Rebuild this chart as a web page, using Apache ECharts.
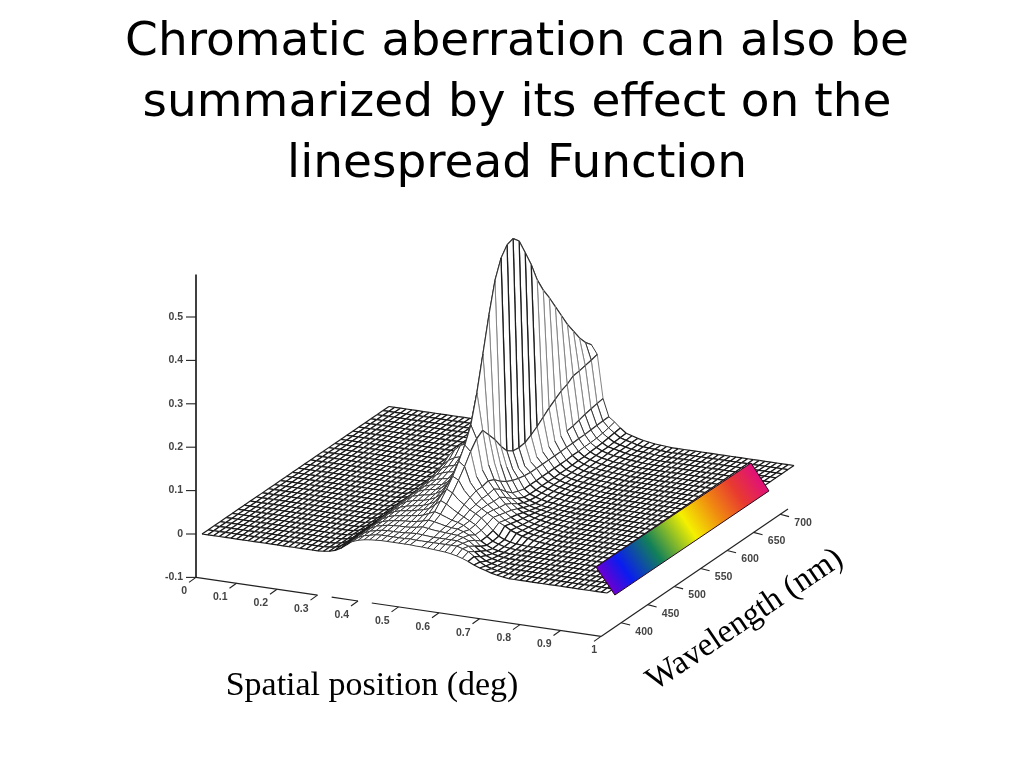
<!DOCTYPE html>
<html><head><meta charset="utf-8">
<style>html,body{margin:0;padding:0;background:#fff}#c{width:1024px;height:768px}</style>
<script src="https://cdn.jsdelivr.net/npm/echarts@6/dist/echarts.min.js"></script>
</head><body><div id="c"></div>
<script>
const titleLines = ['Chromatic aberration can also be','summarized by its effect on the','linespread Function'];
const xAxisName = 'Spatial position (deg)';
const wlAxisName = 'Wavelength (nm)';
const positionTicks = [0,0.1,0.2,0.3,0.4,0.5,0.6,0.7,0.8,0.9,1];
const positionLabels = ['0','0.1','0.2','0.3','0.4','0.5','0.6','0.7','0.8','0.9','1'];
const wavelengthTicks = [400,450,500,550,600,650,700];
const heightTicks = [-0.1,0,0.1,0.2,0.3,0.4,0.5];
const heightLabels = ['-0.1','0','0.1','0.2','0.3','0.4','0.5'];
const xAxisSegments = [[0,0.30],[0.335,0.40],[0.434,1]];
const positionCells = 70, wavelengthCells = 31, firstColumn = 20, crestColumn = 35;
const wavelengthRange = [362,715];
// Height (thousandths) per wavelength row, front to back, from mesh column 20 on; zero elsewhere.
const heightRows = [
[0,1,3,7,14,24,33,38,41,43,44,45,45,45,45,45,45,44,44,43,42,41,40,38,35,31,26,20,15,11,7,4,2],
[0,1,3,8,16,25,33,39,42,45,46,46,46,46,46,47,46,46,46,46,46,46,46,46,42,37,28,17,10,6,3,1],
[0,1,3,8,16,26,34,40,43,46,47,47,47,48,49,50,49,48,47,47,47,47,47,43,38,28,18,10,6,3,1],
[0,1,3,8,17,27,35,42,45,48,49,50,50,51,53,56,54,52,51,50,49,48,45,39,29,19,11,6,3,1],
[0,1,4,9,18,28,37,43,47,49,51,52,53,55,58,62,60,57,54,52,51,47,41,31,19,11,6,3,1],
[0,1,4,9,19,29,38,45,49,51,53,55,57,60,66,72,68,63,58,55,50,42,32,20,12,6,3,1],
[0,1,4,9,19,30,40,47,51,53,55,58,61,66,76,88,82,73,65,58,51,44,33,21,12,7,3,1],
[0,1,4,10,20,31,41,48,52,55,57,60,65,72,88,105,98,85,75,65,58,50,38,25,14,8,4,2,1],
[0,1,4,10,21,33,43,51,55,58,60,64,70,80,102,125,118,96,82,68,60,52,44,34,28,20,15,10,7,4,2,1],
[0,1,4,11,22,35,45,54,58,61,63,68,76,90,120,150,140,105,88,72,60,50,40,30,24,17,12,8,6,4,2,1],
[0,1,5,11,23,36,48,56,61,64,66,72,82,102,140,178,165,110,88,72,58,46,36,27,20,14,10,7,5,3,2,1],
[0,1,5,12,24,37,49,58,63,66,68,76,90,118,165,215,185,115,92,75,58,44,32,24,17,12,8,6,4,3,1],
[0,1,5,12,25,40,52,61,66,70,72,82,100,140,210,280,195,118,85,65,48,36,26,19,14,10,7,5,3,2,1],
[0,2,5,13,27,43,56,66,72,76,78,90,115,165,260,360,175,112,72,50,36,26,19,14,11,8,6,4,3,2,1],
[0,2,6,14,30,47,61,72,78,82,85,100,130,195,320,440,155,100,62,38,27,19,14,10,8,6,4,3,2,1],
[0,2,6,15,32,52,68,80,88,92,95,115,150,230,380,510,130,85,55,32,20,15,10,7,5,4,3,2,1],
[0,2,7,17,37,60,80,95,107,112,115,135,175,270,420,552,110,70,50,28,18,13,9,6,5,3,2,1],
[0,2,6,15,30,50,70,90,105,115,125,150,200,300,450,573,100,62,47,28,18,13,9,6,5,3,2,1],
[0,3,8,18,32,50,70,88,105,120,135,165,215,320,470,578,98,58,45,28,18,13,9,7,5,4,3,2,1],
[0,3,8,18,32,50,70,88,105,120,135,160,210,310,455,563,100,58,45,28,18,13,9,7,5,4,3,2,1],
[0,3,8,17,30,47,66,84,100,115,128,152,198,290,425,527,108,60,45,28,18,13,9,7,5,4,3,2,1],
[0,3,7,15,27,42,59,75,89,102,114,140,182,271,399,490,118,62,45,28,18,13,9,7,5,4,3,2,1],
[0,2,6,14,25,39,54,68,81,92,104,127,166,246,362,445,130,65,45,28,18,13,9,7,5,4,3,2,1],
[0,2,6,13,23,36,50,63,75,86,96,118,153,228,335,412,142,68,45,28,18,13,9,7,5,4,3,2,1],
[0,2,5,12,21,33,47,59,70,80,90,110,143,213,313,385,152,70,46,29,19,13,9,7,5,4,3,2,1],
[0,2,5,11,20,31,43,54,64,74,83,101,132,196,289,355,162,72,46,29,19,14,10,7,5,4,3,2,1],
[0,2,4,10,18,28,39,49,59,67,76,93,121,180,264,325,168,74,47,30,20,14,10,8,5,4,3,2,1],
[0,2,4,9,16,26,36,45,54,61,69,84,110,163,240,295,178,78,47,30,21,15,11,8,6,4,3,2,1],
[0,1,4,8,15,23,33,41,49,56,63,77,100,149,219,270,180,82,48,31,22,15,12,9,6,4,3,2,1],
[0,1,3,8,14,21,30,37,45,51,57,70,91,136,199,245,183,85,49,33,24,16,12,9,6,4,3,2,1],
[0,1,3,7,12,19,27,34,41,47,53,64,84,124,183,225,186,88,50,36,26,17,13,10,6,4,3,2,1],
[0,1,3,7,12,18,25,32,38,44,49,60,78,116,171,210,190,90,50,40,28,18,14,10,7,5,3,2,1]
];
// Spectrum strip: corners [position, wavelength] and gradient stops
const stripCorners = [[0.9,417.6],[1.022,360],[1.025,648.6],[0.905,706.5]];
const stripEnds = [[0.961,389],[0.965,677.5]];
const stripStops = [[0,'#6a00d0'],[0.12,'#0a1cf0'],[0.31,'#128058'],[0.535,'#f4f000'],[0.70,'#f08a10'],[0.85,'#e83a30'],[1,'#e0107a']];

/* oblique projection of the plot box onto the page */
const wSpan = wavelengthRange[1]-wavelengthRange[0];
function project(x,wl,z){
  const w=(wl-wavelengthRange[0])/wSpan;
  return [202+405*x+187*w, 534+59*x-127.5*w-434*z];
}
function floorPoint(x,wl){ const p=project(x,wl,-0.1); return [p[0]-6,p[1]]; }
function heightAt(i,j){
  const c=i-firstColumn, r=heightRows[j];
  return (c>=0&&c<r.length)? r[c]/1000 : 0;
}
function node(i,j){
  return project(i/positionCells, wavelengthRange[0]+j/wavelengthCells*wSpan, heightAt(i,j));
}
const cells=[];
for(let j=wavelengthCells-1;j>=0;j--) for(let i=0;i<positionCells;i++) cells.push([i,j]);

const meshLine={stroke:'#1a1a1a',lineWidth:1.2};
const softLine={stroke:'#3a3a3a',lineWidth:1};
function rowStyle(i,j){
  const a=heightAt(i,j), b=heightAt(i+1,j), d=Math.abs(a-b);
  if(d>0.04) return (j>=16&&j<=21&&i===crestColumn)?{stroke:'#1c1c1c',lineWidth:1.25}:{stroke:'#858585',lineWidth:1};
  return Math.max(a,b)<0.03?meshLine:softLine;
}
function columnVisible(i,j){ return !(i===crestColumn+2&&j<25); }
function columnStyle(i,j){
  const h=Math.max(heightAt(i,j),heightAt(i,j+1));
  if(i>=crestColumn&&i<=crestColumn+3&&j>=10) return {stroke:'#333',lineWidth:1.1};
  return h<0.03?meshLine:softLine;
}
function seg(api,a,b,style){
  const p=api.coord(a), q=api.coord(b);
  return {type:'line',shape:{x1:p[0],y1:p[1],x2:q[0],y2:q[1]},style:Object.assign({fill:null},style)};
}
function renderCell(params,api){
  const i=api.value(0), j=api.value(1);
  const a=node(i,j),b=node(i+1,j),c=node(i+1,j+1),d=node(i,j+1);
  const kids=[{type:'polygon',shape:{points:[a,b,c,d].map(p=>api.coord(p))},style:{fill:'#fff',stroke:null}}];
  kids.push(seg(api,d,c,rowStyle(i,j+1)));
  kids.push(seg(api,a,b,rowStyle(i,j)));
  if(columnVisible(i,j)) kids.push(seg(api,d,a,columnStyle(i,j)));
  if(columnVisible(i+1,j)) kids.push(seg(api,c,b,columnStyle(i+1,j)));
  return {type:'group',children:kids};
}
function lineSeries(name,data,style){
  return {type:'custom',name,silent:true,clip:false,coordinateSystem:'cartesian2d',z:3,progressive:0,animation:false,
    data:data.map((d,k)=>[k]),
    renderItem:(p,api)=>{const s=data[api.value(0)];return seg(api,s[0],s[1],style);}};
}
function textSeries(name,data,font){
  return {type:'custom',name,silent:true,clip:false,coordinateSystem:'cartesian2d',z:4,progressive:0,animation:false,
    data:data.map((d,k)=>[k]),
    renderItem:(p,api)=>{const s=data[api.value(0)];const q=api.coord(s.at);
      return {type:'text',x:q[0],y:q[1],rotation:s.rot||0,
        style:Object.assign({text:s.text,align:s.align||'center',verticalAlign:'middle'},font)};}};
}
const tickFont={fontFamily:'Liberation Sans',fontSize:10.5,fontWeight:'bold',fill:'#444'};
const zTop=project(0,wavelengthRange[0],0.598);
const axisSegs=[];
xAxisSegments.forEach(s=>axisSegs.push([floorPoint(s[0],wavelengthRange[0]),floorPoint(s[1],wavelengthRange[0])]));
axisSegs.push([floorPoint(1,wavelengthRange[0]),floorPoint(1,wavelengthRange[1])]);
const o=floorPoint(0,wavelengthRange[0]);
const zAxisSeg=[[o,[o[0],zTop[1]]]];
const tickSegs=[], labels=[];
positionTicks.forEach((t,k)=>{const r=floorPoint(t,wavelengthRange[0]);
  tickSegs.push([r,[r[0]-7,r[1]+5]]);
  labels.push({text:positionLabels[k],at:[r[0]-(k===10?4:9),r[1]+14],align:'right'});});
wavelengthTicks.forEach(t=>{const r=floorPoint(1,t);
  tickSegs.push([r,[r[0]+9,r[1]+2.3]]);
  labels.push({text:String(t),at:[r[0]+23,r[1]+9]});});
heightTicks.forEach((t,k)=>{const r=project(0,wavelengthRange[0],t);const y=r[1];
  tickSegs.push([[o[0]-10,y],[o[0],y]]);
  labels.push({text:heightLabels[k],at:[o[0]-13,y],align:'right'});});

const chart=echarts.init(document.getElementById('c'),null,{renderer:'canvas'});
chart.setOption({
  animation:false,
  backgroundColor:'#fff',
  title:{text:titleLines.join('\n'),left:512,top:7,textAlign:'center',
    textStyle:{fontFamily:'DejaVu Sans',fontSize:47,fontWeight:'normal',color:'#000',lineHeight:61}},
  grid:{left:0,right:0,top:0,bottom:0},
  xAxis:{type:'value',min:0,max:1024,show:false},
  yAxis:{type:'value',min:0,max:768,inverse:true,show:false},
  series:[
    {type:'custom',name:'surface',silent:true,clip:false,coordinateSystem:'cartesian2d',z:2,progressive:0,animation:false,
      data:cells,renderItem:renderCell},
    lineSeries('axes',axisSegs,{stroke:'#222',lineWidth:1.2}),
    lineSeries('zaxis',zAxisSeg,{stroke:'#111',lineWidth:1.6}),
    lineSeries('ticks',tickSegs,{stroke:'#222',lineWidth:1.1}),
    textSeries('ticklabels',labels,tickFont),
    textSeries('names',[{text:xAxisName,at:[372,686]}],{fontFamily:'Liberation Serif',fontSize:34,fill:'#000'}),
    textSeries('names2',[{text:wlAxisName,at:[745,620],rot:Math.atan2(135,200)}],{fontFamily:'Liberation Serif',fontSize:33,fill:'#000'}),
    {type:'custom',name:'spectrum',silent:true,clip:false,coordinateSystem:'cartesian2d',z:5,progressive:0,animation:false,
      data:[[0]],
      renderItem:(p,api)=>{
        const pts=stripCorners.map(c=>api.coord(project(c[0],c[1],0)));
        const a=api.coord(project(stripEnds[0][0],stripEnds[0][1],0)), b=api.coord(project(stripEnds[1][0],stripEnds[1][1],0));
        const grad=new echarts.graphic.LinearGradient(a[0],a[1],b[0],b[1],stripStops.map(s=>({offset:s[0],color:s[1]})),true);
        return {type:'polygon',shape:{points:pts},style:{fill:grad,stroke:'#2a0a20',lineWidth:1}};
      }}
  ]
});
</script></body></html>
